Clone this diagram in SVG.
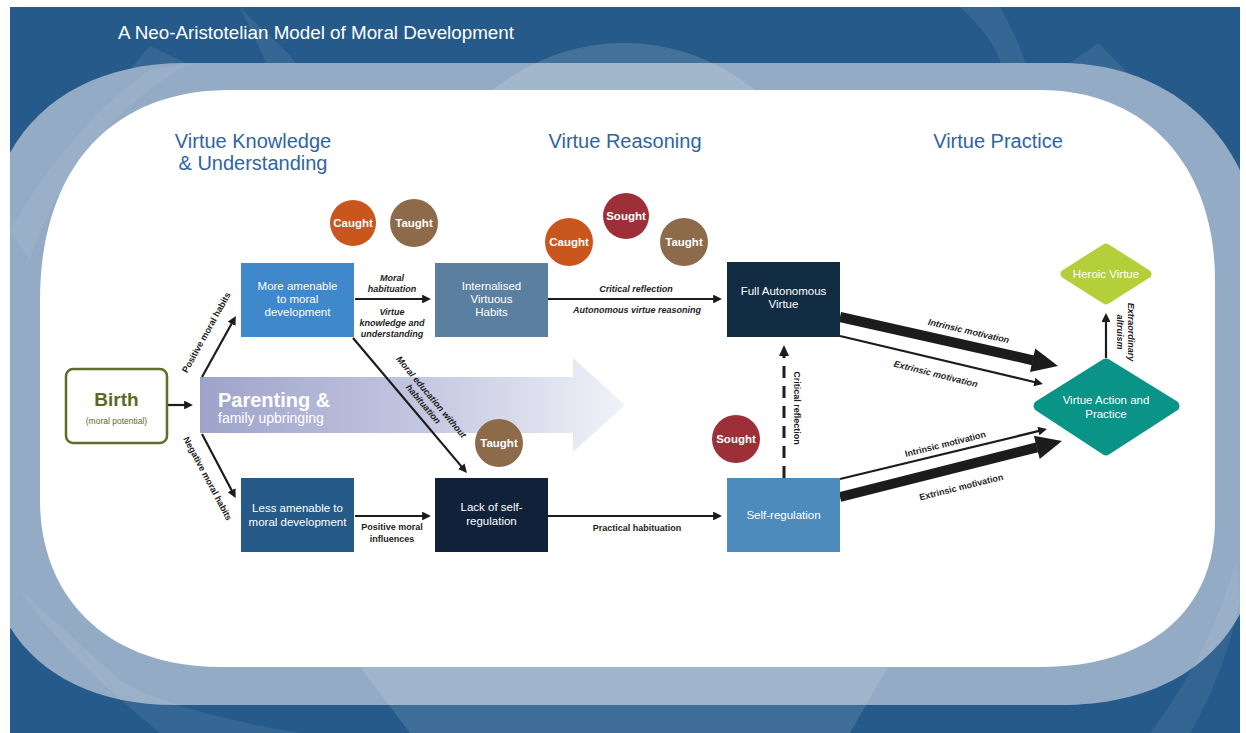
<svg xmlns="http://www.w3.org/2000/svg" width="1246" height="733" viewBox="0 0 1246 733">
  <style>
    text { font-family: "Liberation Sans", Arial, sans-serif; }
    .title { fill: #ffffff; font-size: 18px; }
    .head { fill: #2f65a0; font-size: 20px; text-anchor: middle; }
    .box-label { fill: #ffffff; font-size: 11.5px; text-anchor: middle; }
    .badge-label { fill: #ffffff; font-size: 11.5px; font-weight: bold; text-anchor: middle; }
    .edge-label { fill: #1e1e1e; font-size: 9px; font-weight: bold; text-anchor: middle; }
    .edge-italic { fill: #1e1e1e; font-size: 9px; font-weight: bold; font-style: italic; text-anchor: middle; }
    .edge { stroke: #1c1c1c; stroke-width: 2.2; fill: none; marker-end: url(#head); }
    .edge-thick { stroke: #1c1c1c; stroke-width: 10; fill: none; }
    .caught { fill: #c9561d; }
    .taught { fill: #8c6a4a; }
    .sought { fill: #9c2f37; }
    .deco { fill: #ffffff; }
  </style>
  <defs>
    <marker id="head" viewBox="0 0 10 10" refX="1" refY="5" markerWidth="4" markerHeight="4" orient="auto" markerUnits="strokeWidth">
      <path d="M0,0 L10,5 L0,10 Z" fill="#1c1c1c"/>
    </marker>
    <linearGradient id="parentFade" gradientUnits="userSpaceOnUse" x1="200" y1="0" x2="625" y2="0">
      <stop offset="0" stop-color="#9ea3cb"/>
      <stop offset="0.5" stop-color="#c2c5df"/>
      <stop offset="1" stop-color="#f1f2f8"/>
    </linearGradient>
    <clipPath id="frame">
      <rect x="10" y="7" width="1230" height="726"/>
    </clipPath>
  </defs>

  <!-- background frame -->
  <rect x="0" y="0" width="1246" height="733" fill="#ffffff"/>
  <g id="background" clip-path="url(#frame)">
    <rect x="10" y="7" width="1230" height="726" fill="#255a8a"/>
    <!-- faint decorative facets on the dark field -->
    <path class="deco" opacity="0.08" d="M150,46 L108,95 L205,72 Z"/>
    <path class="deco" opacity="0.08" d="M240,7 C260,30 290,50 300,70 L270,75 C262,50 250,30 240,7 Z"/>
    <path class="deco" opacity="0.08" d="M1098,43 L1066,66 L1140,85 Z"/>
    <path class="deco" opacity="0.08" d="M960,7 C985,30 1000,50 1005,80 L1030,75 C1020,45 1010,25 1000,7 Z"/>
    <!-- light band around the central panel -->
    <path fill="#93abc4" d="M185,63 L1060,63 C1180,63 1262,150 1262,270 L1262,520 C1262,625 1195,705 1060,705 L175,705 C60,705 -12,640 -12,545 L-12,245 C-12,130 70,63 185,63 Z"/>
    <ellipse class="deco" opacity="0.14" cx="624" cy="262" rx="212" ry="219"/>
    <path class="deco" opacity="0.12" d="M360,667 L888,667 L850,733 L410,733 Z"/>
    <path class="deco" opacity="0.08" d="M20,590 C60,650 120,700 160,733 L300,733 C220,720 150,700 120,680 Z"/>
    <path class="deco" opacity="0.07" d="M1236,560 C1215,640 1175,700 1150,733 L1190,733 C1210,700 1230,650 1240,600 Z"/>
    <path class="deco" opacity="0.07" d="M10,230 C40,180 80,120 150,70 L190,63 C110,110 60,170 30,260 Z"/>
    <!-- white working area -->
    <path fill="#ffffff" d="M230,90 L1040,90 C1150,90 1215,170 1215,280 L1215,520 C1215,610 1150,667 1040,667 L220,667 C110,667 40,600 40,500 L40,300 C40,170 110,90 230,90 Z"/>
  </g>

  <text class="title" x="118" y="39" textLength="396" lengthAdjust="spacingAndGlyphs">A Neo-Aristotelian Model of Moral Development</text>

  <!-- column headings -->
  <g id="headings">
    <text class="head" x="253" y="148">Virtue Knowledge</text>
    <text class="head" x="253" y="170">&amp; Understanding</text>
    <text class="head" x="625" y="148">Virtue Reasoning</text>
    <text class="head" x="998" y="148">Virtue Practice</text>
  </g>

  <!-- parenting band -->
  <g id="parenting">
    <path fill="url(#parentFade)" d="M200,377 L573,377 L573,358 L625,405 L573,452 L573,433 L200,433 Z"/>
    <text x="218" y="407" fill="#ffffff" font-size="20" font-weight="bold">Parenting &amp;</text>
    <text x="218" y="423" fill="#ffffff" font-size="14">family upbringing</text>
  </g>

  <!-- connectors -->
  <g id="connectors">
    <line class="edge" x1="168" y1="405" x2="185" y2="405"/>
    <line class="edge" x1="202" y1="377" x2="232" y2="323"/>
    <line class="edge" x1="202" y1="434" x2="232" y2="491"/>
    <line class="edge" x1="355" y1="299" x2="423" y2="299"/>
    <line class="edge" x1="548" y1="299" x2="714" y2="299"/>
    <line class="edge" x1="353" y1="338" x2="461.8" y2="466.9"/>
    <line class="edge" x1="355" y1="516" x2="423" y2="516"/>
    <line class="edge" x1="548" y1="516" x2="714" y2="516"/>
    <line x1="784" y1="478" x2="784" y2="356" stroke="#1c1c1c" stroke-width="3" stroke-dasharray="12 8"/>
    <path d="M784,345 L779,356 L789,356 Z" fill="#1c1c1c"/>
    <line class="edge" x1="1106" y1="358" x2="1106" y2="321"/>
    <line class="edge" x1="840" y1="336" x2="1035.2" y2="382.2"/>
    <line class="edge" x1="840" y1="479" x2="1039.2" y2="430.9"/>
    <line class="edge-thick" x1="840" y1="317" x2="1033" y2="360.3"/>
    <path d="M1058,366 L1030,372 L1035.2,348.6 Z" fill="#1c1c1c"/>
    <line class="edge-thick" x1="840" y1="497" x2="1037" y2="447.4"/>
    <path d="M1062,441 L1039.7,459 L1033.9,435.8 Z" fill="#1c1c1c"/>

    <!-- connector labels -->
    <text class="edge-label" transform="translate(209,334) rotate(-61)">Positive moral habits</text>
    <text class="edge-label" transform="translate(205,480) rotate(62)">Negative moral habits</text>
    <text class="edge-italic" x="392" y="281">Moral</text>
    <text class="edge-italic" x="392" y="292">habituation</text>
    <text class="edge-italic" x="392" y="315">Virtue</text>
    <text class="edge-italic" x="392" y="326">knowledge and</text>
    <text class="edge-italic" x="392" y="337">understanding</text>
    <text class="edge-italic" x="636" y="292">Critical reflection</text>
    <text class="edge-italic" x="637" y="313">Autonomous virtue reasoning</text>
    <text class="edge-italic" transform="translate(429,399) rotate(50)">Moral education without</text>
    <text class="edge-italic" transform="translate(421,406) rotate(50)">habituation</text>
    <text class="edge-label" x="392" y="530">Positive moral</text>
    <text class="edge-label" x="392" y="542">influences</text>
    <text class="edge-label" x="637" y="531">Practical habituation</text>
    <text class="edge-label" transform="translate(794,408) rotate(90)">Critical reflection</text>
    <text class="edge-italic" transform="translate(1128,332) rotate(90)">Extraordinary</text>
    <text class="edge-italic" transform="translate(1117,332) rotate(90)">altruism</text>
    <text class="edge-italic" transform="translate(968,334) rotate(13)">Intrinsic motivation</text>
    <text class="edge-italic" transform="translate(935,377) rotate(14)">Extrinsic motivation</text>
    <text class="edge-label" transform="translate(946,447) rotate(-14)">Intrinsic motivation</text>
    <text class="edge-label" transform="translate(962,490) rotate(-14)">Extrinsic motivation</text>
  </g>

  <!-- nodes -->
  <g id="birth">
    <rect x="66" y="369" width="101" height="74" rx="7" fill="#ffffff" stroke="#5c6f2a" stroke-width="2.5"/>
    <text x="116.5" y="406" fill="#5a6b1f" font-size="19" font-weight="bold" text-anchor="middle">Birth</text>
    <text x="116.5" y="424" fill="#5a6b1f" font-size="8.5" text-anchor="middle">(moral potential)</text>
  </g>
  <g id="more-amenable">
    <rect x="241" y="263" width="113" height="74" fill="#3f88cc"/>
    <text class="box-label" x="297.5" y="290">More amenable</text>
    <text class="box-label" x="297.5" y="303">to moral</text>
    <text class="box-label" x="297.5" y="316">development</text>
  </g>
  <g id="less-amenable">
    <rect x="241" y="478" width="113" height="74" fill="#255a89"/>
    <text class="box-label" x="297.5" y="512">Less amenable to</text>
    <text class="box-label" x="297.5" y="526">moral development</text>
  </g>
  <g id="internalised-habits">
    <rect x="435" y="263" width="113" height="74" fill="#5b7fa0"/>
    <text class="box-label" x="491.5" y="290">Internalised</text>
    <text class="box-label" x="491.5" y="303">Virtuous</text>
    <text class="box-label" x="491.5" y="316">Habits</text>
  </g>
  <g id="lack-self-regulation">
    <rect x="435" y="478" width="113" height="74" fill="#0f223a"/>
    <text class="box-label" x="491.5" y="511">Lack of self-</text>
    <text class="box-label" x="491.5" y="525">regulation</text>
  </g>
  <g id="full-autonomous-virtue">
    <rect x="727" y="262" width="113" height="75" fill="#112c42"/>
    <text class="box-label" x="783.5" y="295">Full Autonomous</text>
    <text class="box-label" x="783.5" y="308">Virtue</text>
  </g>
  <g id="self-regulation">
    <rect x="727" y="478" width="113" height="74" fill="#4d8bbd"/>
    <text class="box-label" x="783.5" y="519">Self-regulation</text>
  </g>
  <g id="virtue-action-practice">
    <path d="M1039,406 L1106,364 L1174,406 L1106,450 Z" fill="#0a9488" stroke="#0a9488" stroke-width="11" stroke-linejoin="round"/>
    <text class="box-label" x="1106" y="404">Virtue Action and</text>
    <text class="box-label" x="1106" y="418">Practice</text>
  </g>
  <g id="heroic-virtue">
    <path d="M1065,274 L1106,248 L1147,274 L1106,300 Z" fill="#b5cf3a" stroke="#b5cf3a" stroke-width="9" stroke-linejoin="round"/>
    <text class="box-label" x="1106" y="278">Heroic Virtue</text>
  </g>

  <!-- caught / taught / sought badges -->
  <g id="badge-caught-1"><circle class="caught" cx="353" cy="223" r="23"/><text class="badge-label" x="353" y="227">Caught</text></g>
  <g id="badge-taught-1"><circle class="taught" cx="414" cy="223" r="24"/><text class="badge-label" x="414" y="227">Taught</text></g>
  <g id="badge-sought-1"><circle class="sought" cx="626" cy="216" r="23"/><text class="badge-label" x="626" y="220">Sought</text></g>
  <g id="badge-caught-2"><circle class="caught" cx="569" cy="242" r="24"/><text class="badge-label" x="569" y="246">Caught</text></g>
  <g id="badge-taught-2"><circle class="taught" cx="684" cy="242" r="24"/><text class="badge-label" x="684" y="246">Taught</text></g>
  <g id="badge-taught-3"><circle class="taught" cx="499" cy="443" r="24"/><text class="badge-label" x="499" y="447">Taught</text></g>
  <g id="badge-sought-2"><circle class="sought" cx="736" cy="439" r="24"/><text class="badge-label" x="736" y="443">Sought</text></g>
</svg>
